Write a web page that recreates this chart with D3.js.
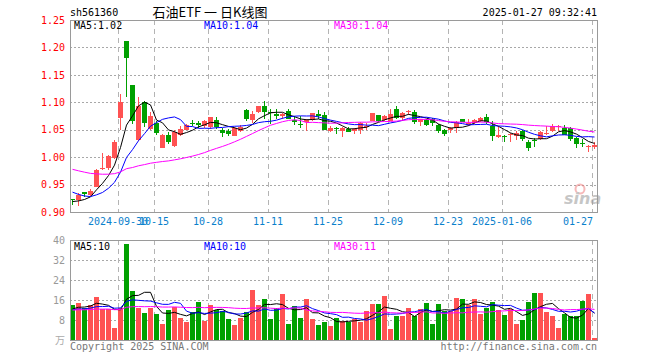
<!DOCTYPE html>
<html>
<head>
<meta charset="utf-8">
<script src="https://cdn.jsdelivr.net/npm/d3@7"></script>
<style>
  html, body { margin: 0; padding: 0; background: #fff; }
  svg { display: block; }
  .mono { font-family: "DejaVu Sans Mono", monospace; font-size: 10px; }
</style>
</head>
<body>
<div id="chart"></div>
<script>
// ---- data ----
const dates = [
  "2024-09-18","2024-09-19","2024-09-20","2024-09-23","2024-09-24","2024-09-25","2024-09-26","2024-09-27","2024-09-30","2024-10-08",
  "2024-10-09","2024-10-10","2024-10-11","2024-10-14","2024-10-15","2024-10-16","2024-10-17","2024-10-18","2024-10-21","2024-10-22",
  "2024-10-23","2024-10-24","2024-10-25","2024-10-28","2024-10-29","2024-10-30","2024-10-31","2024-11-01","2024-11-04","2024-11-05",
  "2024-11-06","2024-11-07","2024-11-08","2024-11-11","2024-11-12","2024-11-13","2024-11-14","2024-11-15","2024-11-18","2024-11-19",
  "2024-11-20","2024-11-21","2024-11-22","2024-11-25","2024-11-26","2024-11-27","2024-11-28","2024-11-29","2024-12-02","2024-12-03",
  "2024-12-04","2024-12-05","2024-12-06","2024-12-09","2024-12-10","2024-12-11","2024-12-12","2024-12-13","2024-12-16","2024-12-17",
  "2024-12-18","2024-12-19","2024-12-20","2024-12-23","2024-12-24","2024-12-25","2024-12-26","2024-12-27","2024-12-30","2024-12-31",
  "2025-01-02","2025-01-03","2025-01-06","2025-01-07","2025-01-08","2025-01-09","2025-01-10","2025-01-13","2025-01-14","2025-01-15",
  "2025-01-16","2025-01-17","2025-01-20","2025-01-21","2025-01-22","2025-01-23","2025-01-24","2025-01-27"
];

const openP = [
  0.923,0.921,0.936,0.932,0.946,0.979,0.980,0.999,1.070,1.212,
  1.131,1.031,1.101,1.052,1.062,1.017,1.040,1.020,1.040,1.050,
  1.063,1.062,1.056,1.055,1.068,1.050,1.048,1.039,1.047,1.086,
  1.067,1.082,1.093,1.083,1.078,1.075,1.085,1.068,1.061,1.064,
  1.067,1.078,1.077,1.049,1.053,1.049,1.052,1.049,1.050,1.055,
  1.066,1.077,1.067,1.067,1.088,1.070,1.082,1.083,1.064,1.068,
  1.070,1.059,1.050,1.050,1.053,1.070,1.059,1.062,1.066,1.073,
  1.057,1.036,1.039,1.041,1.039,1.047,1.027,1.031,1.033,1.042,
  1.047,1.055,1.054,1.053,1.035,1.025,1.020,1.020
];
const highP = [
  0.924,0.934,0.937,0.942,0.978,1.008,1.004,1.032,1.115,1.212,
  1.131,1.110,1.103,1.083,1.066,1.043,1.046,1.049,1.056,1.061,
  1.067,1.065,1.067,1.074,1.074,1.053,1.051,1.055,1.058,1.088,
  1.084,1.094,1.103,1.087,1.087,1.080,1.087,1.075,1.075,1.069,
  1.081,1.086,1.082,1.056,1.055,1.055,1.055,1.054,1.064,1.062,
  1.081,1.077,1.077,1.087,1.094,1.082,1.086,1.086,1.070,1.070,
  1.071,1.061,1.051,1.055,1.065,1.070,1.070,1.070,1.073,1.079,
  1.065,1.057,1.041,1.044,1.047,1.050,1.032,1.035,1.047,1.057,
  1.061,1.059,1.059,1.055,1.037,1.033,1.022,1.027
];
const lowP = [
  0.912,0.911,0.928,0.930,0.945,0.976,0.977,0.997,1.049,1.110,
  1.061,1.029,1.055,1.050,1.040,1.016,1.024,1.019,1.039,1.049,
  1.056,1.053,1.053,1.052,1.051,1.037,1.038,1.038,1.045,1.066,
  1.063,1.080,1.069,1.061,1.069,1.069,1.069,1.058,1.054,1.047,
  1.066,1.069,1.049,1.045,1.042,1.037,1.045,1.042,1.043,1.050,
  1.065,1.064,1.065,1.066,1.070,1.066,1.076,1.060,1.057,1.057,
  1.057,1.044,1.039,1.044,1.044,1.064,1.057,1.061,1.064,1.061,
  1.029,1.035,1.027,1.027,1.032,1.030,1.012,1.019,1.032,1.041,
  1.045,1.047,1.040,1.030,1.016,1.018,1.010,1.014
];
const closeP = [
  0.922,0.931,0.933,0.939,0.977,0.981,1.002,1.028,1.100,1.181,
  1.065,1.093,1.062,1.075,1.043,1.040,1.028,1.046,1.051,1.059,
  1.061,1.059,1.065,1.073,1.055,1.044,1.043,1.053,1.055,1.070,
  1.078,1.093,1.082,1.081,1.075,1.078,1.070,1.065,1.060,1.068,
  1.080,1.075,1.050,1.054,1.052,1.054,1.047,1.052,1.062,1.057,
  1.080,1.066,1.075,1.079,1.072,1.080,1.084,1.064,1.069,1.059,
  1.062,1.048,1.043,1.053,1.064,1.065,1.062,1.068,1.072,1.063,
  1.038,1.040,1.038,1.042,1.044,1.033,1.016,1.030,1.045,1.044,
  1.056,1.056,1.041,1.033,1.024,1.024,1.021,1.023
];
const volume = [
  14.2,14.9,13.0,14.0,17.4,12.5,12.5,4.9,13.0,38.6,
  19.8,13.0,11.0,13.0,10.4,6.6,12.2,13.1,9.0,7.4,
  11.3,15.4,7.8,14.2,12.2,11.8,8.6,6.2,9.0,11.3,
  20.2,14.2,16.6,8.6,12.9,18.6,6.6,13.8,9.0,16.6,
  8.6,6.2,7.4,5.8,8.9,7.8,7.4,8.4,7.1,11.8,
  14.6,14.6,17.8,4.6,9.8,9.8,13.0,9.8,12.6,15.0,
  6.6,14.6,11.8,11.8,17.0,16.6,14.2,16.6,10.6,13.0,
  15.4,12.2,10.2,12.6,6.3,7.9,15.1,18.7,18.7,11.1,
  9.5,4.7,10.3,9.6,9.6,15.5,18.3,0.7
];

// estimated sessions before the visible window (only feed the moving averages)
const histClose = [
  1.012,1.008,1.005,1.003,1.002,1.000,0.998,1.003,1.006,1.002,
  0.998,0.997,0.999,0.995,0.996,0.993,0.990,0.992,0.988,0.985,
  0.972,0.962,0.950,0.945,0.938,0.925,0.920,0.915,0.913
];
const histVol = [
  11.5,12.8,10.9,12.2,13.1,11.7,12.4,10.8,11.9,12.6,
  11.2,12.9,11.6,12.1,10.7,12.3,11.4,12.8,11.1,12.0,
  11.8,12.5,10.9,11.7,12.2,11.4,12.6,11.9,11.9
];

const tickDates  = ["2024-09-30","2024-10-15","2024-10-28","2024-11-11","2024-11-25","2024-12-09","2024-12-23","2025-01-06","2025-01-27"];
const tickLabels = ["2024-09-30","10-15","10-28","11-11","11-25","12-09","12-23","2025-01-06","01-27"];
const priceTicks = [0.90, 0.95, 1.00, 1.05, 1.10, 1.15, 1.20, 1.25];
const volTicks = [8, 16, 24, 32, 40];
const maPeriods = [5, 10, 30];
const priceMaText = ["1.02", "1.04", "1.04"];
const volMaText = ["10", "10", "11"];

// ---- layout ----
const width = 660, height = 360;
const left = 70, right = 598;
const pTop = 20, pBottom = 212;
const vTop = 240, vBottom = 340;
const upColor = "#ff5252", downColor = "#00a000";
const maColors = ["#000000", "#0000ff", "#ff00ff"];

const svg = d3.select("#chart").append("svg")
    .attr("width", width)
    .attr("height", height);

const x = d3.scaleBand().domain(dates).range([left, right]).padding(0);
const y = d3.scaleLinear().domain([0.90, 1.25]).range([pBottom, pTop]);
const yv = d3.scaleLinear().domain([0, 40]).range([vBottom, vTop]);

const bars = dates.map((d, i) => ({
    d, o: openP[i], h: highP[i], l: lowP[i], c: closeP[i], v: volume[i]
}));
const colorOf = k => (k.c >= k.o ? upColor : downColor);

function movingAvg(values, hist, n) {
    const all = hist.concat(values);
    const off = hist.length;
    return values.map((_, i) => d3.mean(all.slice(off + i - n + 1, off + i + 1)));
}

// -----------------------------
// GRIDS
// -----------------------------
function drawGrid(top, bottom, yScale, ticks) {
    const g = svg.append("g");
    g.selectAll(".hg").data(ticks).enter().append("line")
        .attr("x1", left).attr("x2", right)
        .attr("y1", d => Math.round(yScale(d)) + 0.5)
        .attr("y2", d => Math.round(yScale(d)) + 0.5)
        .attr("stroke", "#a8a8a8")
        .attr("stroke-dasharray", "2,2");
    g.selectAll(".vg").data(tickDates).enter().append("line")
        .attr("x1", d => x(d) + 0.5).attr("x2", d => x(d) + 0.5)
        .attr("y1", top).attr("y2", bottom)
        .attr("stroke", "#b4b4b4")
        .attr("stroke-dasharray", "5,4");
}
drawGrid(pTop, pBottom, y, priceTicks.slice(1, -1));
drawGrid(vTop, vBottom, yv, volTicks.slice(0, -1));

// -----------------------------
// CANDLES
// -----------------------------
svg.append("clipPath").attr("id", "pclip").append("rect")
    .attr("x", left).attr("y", pTop).attr("width", right - left).attr("height", pBottom - pTop);

const cg = svg.append("g").attr("clip-path", "url(#pclip)");

cg.selectAll(".wick").data(bars).enter().append("line")
    .attr("x1", k => x(k.d) + 2.5).attr("x2", k => x(k.d) + 2.5)
    .attr("y1", k => y(k.h)).attr("y2", k => y(k.l))
    .attr("stroke", colorOf)
    .attr("shape-rendering", "crispEdges");

cg.selectAll(".body").data(bars).enter().append("rect")
    .attr("x", k => x(k.d))
    .attr("y", k => Math.round(y(Math.max(k.o, k.c))))
    .attr("width", 5)
    .attr("height", k => Math.max(1, Math.round(Math.abs(y(k.o) - y(k.c)))))
    .attr("fill", colorOf)
    .attr("shape-rendering", "crispEdges");

// price moving averages
maPeriods.forEach((n, j) => {
    const ma = movingAvg(closeP, histClose, n);
    cg.append("path")
        .datum(ma)
        .attr("fill", "none")
        .attr("stroke", maColors[j])
        .attr("stroke-width", 1)
        .attr("d", d3.line().x((v, i) => x(dates[i]) + 2.5).y(v => y(v)));
});

// -----------------------------
// VOLUME
// -----------------------------
const vg = svg.append("g");
vg.selectAll(".vol").data(bars).enter().append("rect")
    .attr("x", k => x(k.d))
    .attr("y", k => yv(k.v))
    .attr("width", 5)
    .attr("height", k => vBottom - yv(k.v))
    .attr("fill", colorOf)
    .attr("shape-rendering", "crispEdges");

maPeriods.forEach((n, j) => {
    const ma = movingAvg(volume, histVol, n);
    vg.append("path")
        .datum(ma)
        .attr("fill", "none")
        .attr("stroke", maColors[j])
        .attr("stroke-width", 1)
        .attr("d", d3.line().x((v, i) => x(dates[i]) + 2.5).y(v => yv(v)));
});

// -----------------------------
// FRAMES
// -----------------------------
[[pTop, pBottom], [vTop, vBottom]].forEach(([t, b]) => {
    svg.append("rect")
        .attr("x", left + 0.5).attr("y", t + 0.5)
        .attr("width", right - left - 1).attr("height", b - t)
        .attr("fill", "none")
        .attr("stroke", "#9a9a9a");
});

// -----------------------------
// AXES
// -----------------------------
const pAxis = svg.append("g")
    .attr("transform", `translate(${left},0)`)
    .call(d3.axisLeft(y).tickValues(priceTicks).tickSize(0).tickPadding(5).tickFormat(d3.format(".2f")));
pAxis.select(".domain").remove();
pAxis.selectAll("text").attr("class", "mono").attr("fill", "#ff0000");

const vAxis = svg.append("g")
    .attr("transform", `translate(${left},0)`)
    .call(d3.axisLeft(yv).tickValues(volTicks).tickSize(0).tickPadding(5));
vAxis.select(".domain").remove();
vAxis.selectAll("text").attr("class", "mono").attr("fill", "#999");

svg.append("text")
    .attr("x", left - 5).attr("y", vBottom + 4)
    .attr("text-anchor", "end")
    .style("font-family", "'Noto Sans CJK SC', sans-serif")
    .style("font-size", "10px")
    .attr("fill", "#aaa")
    .text("万");

// x labels, kept inside the frame
const charW = 6.02;
svg.append("g").selectAll("text").data(tickDates).enter().append("text")
    .attr("class", "mono")
    .attr("fill", "#0a80cc")
    .attr("y", 225)
    .attr("text-anchor", "middle")
    .attr("x", (d, i) => {
        const half = tickLabels[i].length * charW / 2;
        return Math.min(x(d), right - 5 - half);
    })
    .text((d, i) => tickLabels[i]);

// -----------------------------
// TEXTS
// -----------------------------
svg.append("text").attr("class", "mono").attr("x", left).attr("y", 16).attr("fill", "#000").text("sh561360");
svg.append("text")
    .attr("x", 210).attr("y", 17)
    .attr("text-anchor", "middle")
    .style("font-family", "'Noto Sans CJK SC', sans-serif")
    .style("font-size", "13px")
    .attr("fill", "#000")
    .text("石油ETF 一 日K线图");
svg.append("text").attr("class", "mono").attr("x", right - 1).attr("y", 16)
    .attr("text-anchor", "end").attr("fill", "#000").text("2025-01-27 09:32:41");

const legendX = [74, 204, 334];
maPeriods.forEach((n, j) => {
    svg.append("text").attr("class", "mono")
        .attr("x", legendX[j]).attr("y", 29)
        .attr("fill", maColors[j])
        .text(`MA${n}:${priceMaText[j]}`);
    svg.append("text").attr("class", "mono")
        .attr("x", legendX[j]).attr("y", 250)
        .attr("fill", maColors[j])
        .text(`MA${n}:${volMaText[j]}`);
});

svg.append("text").attr("class", "mono").attr("x", left).attr("y", 350)
    .attr("fill", "#777").text("Copyright 2025 SINA.COM");
svg.append("text").attr("class", "mono").attr("x", right - 1).attr("y", 350)
    .attr("text-anchor", "end").attr("fill", "#777").text("http://finance.sina.com.cn");

// sina watermark
const wm = svg.append("g").attr("opacity", 0.55);
wm.append("circle").attr("cx", 580).attr("cy", 189).attr("r", 4.5)
    .attr("fill", "none").attr("stroke", "#f08080").attr("stroke-width", 2);
wm.append("text")
    .attr("x", 564).attr("y", 204)
    .style("font-family", "'DejaVu Sans', sans-serif")
    .style("font-size", "16px")
    .style("font-weight", "bold")
    .style("font-style", "italic")
    .attr("fill", "#999")
    .text("sina");
</script>
</body>
</html>
